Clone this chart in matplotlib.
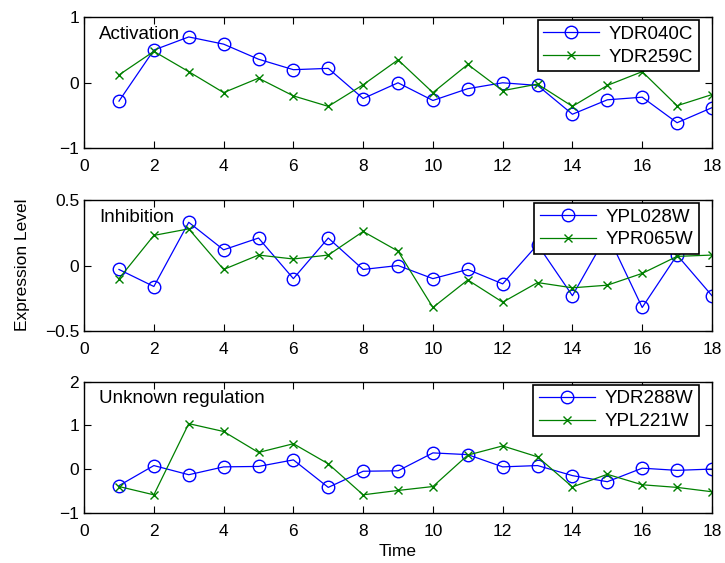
import numpy as np
import matplotlib.pyplot as plt
from matplotlib.ticker import FuncFormatter

plt.rcParams['font.family'] = ['Liberation Sans', 'DejaVu Sans']

# Time points
t = np.arange(1, 19)

# Activation panel
ydr040c = [-0.28, 0.50, 0.70, 0.59, 0.36, 0.20, 0.22, -0.24, 0.00, -0.27,
           -0.09, 0.00, -0.04, -0.48, -0.26, -0.22, -0.61, -0.38]
ydr259c = [0.12, 0.48, 0.17, -0.15, 0.07, -0.20, -0.36, -0.03, 0.35, -0.15,
           0.28, -0.12, -0.02, -0.36, -0.04, 0.17, -0.35, -0.18]

# Inhibition panel
ypl028w = [-0.03, -0.16, 0.33, 0.12, 0.21, -0.10, 0.21, -0.03, 0.00, -0.10,
           -0.03, -0.14, 0.16, -0.23, 0.24, -0.32, 0.08, -0.23]
ypr065w = [-0.10, 0.23, 0.28, -0.03, 0.08, 0.05, 0.08, 0.26, 0.11, -0.32,
           -0.11, -0.28, -0.13, -0.17, -0.15, -0.06, 0.07, 0.08]

# Unknown regulation panel
ydr288w = [-0.38, 0.08, -0.13, 0.05, 0.06, 0.21, -0.42, -0.05, -0.04, 0.37,
           0.33, 0.05, 0.08, -0.15, -0.29, 0.02, -0.03, 0.00]
ypl221w = [-0.40, -0.59, 1.04, 0.86, 0.38, 0.58, 0.12, -0.59, -0.49, -0.40,
           0.32, 0.53, 0.28, -0.41, -0.12, -0.36, -0.42, -0.52]

panels = [
    ('Activation', ydr040c, ydr259c, 'YDR040C', 'YDR259C', (-1, 1), [-1, 0, 1]),
    ('Inhibition', ypl028w, ypr065w, 'YPL028W', 'YPR065W', (-0.5, 0.5), [-0.5, 0, 0.5]),
    ('Unknown regulation', ydr288w, ypl221w, 'YDR288W', 'YPL221W', (-1, 2), [-1, 0, 1, 2]),
]

fmt = FuncFormatter(lambda v, pos: '{:g}'.format(v).replace('-', '\u2212'))

fig = plt.figure(figsize=(7.25, 5.63), dpi=100)
left, width, height = 0.116, 0.866, 0.2327
bottoms = [0.7366, 0.412, 0.0893]

for (title, s1, s2, n1, n2, ylim, yticks), b in zip(panels, bottoms):
    ax = fig.add_axes([left, b, width, height])
    ax.plot(t, s1, color='blue', marker='o', markersize=9, markerfacecolor='none',
            linewidth=0.9, label=n1)
    ax.plot(t, s2, color=(0, 0.5, 0), marker='x', markersize=6,
            linewidth=0.9, label=n2)
    ax.set_xlim(0, 18)
    ax.set_ylim(*ylim)
    ax.set_xticks(np.arange(0, 19, 2))
    ax.set_yticks(yticks)
    ax.yaxis.set_major_formatter(fmt)
    ax.tick_params(direction='in', top=True, right=True, length=5, labelsize=12.5)
    ax.tick_params(axis='x', pad=8)
    for sp in ax.spines.values():
        sp.set_linewidth(1.0)
    ax.text(0.024, 0.87, title, transform=ax.transAxes, fontsize=13.5,
            va='center', ha='left')
    leg = ax.legend(loc='upper right', bbox_to_anchor=(0.979, 0.978), fontsize=13.5,
                    fancybox=False, framealpha=1, edgecolor='black',
                    handlelength=3.0, borderaxespad=0, borderpad=0.3,
                    labelspacing=0.3, handletextpad=0.5)
    leg.get_frame().set_linewidth(1.2)
    if b == bottoms[-1]:
        ax.set_xlabel('Time', fontsize=12.5, labelpad=4)

fig.text(0.031, 0.529, 'Expression Level', rotation=90, fontsize=12.5,
         va='center', ha='center')

fig.savefig('out.png', dpi=100)
